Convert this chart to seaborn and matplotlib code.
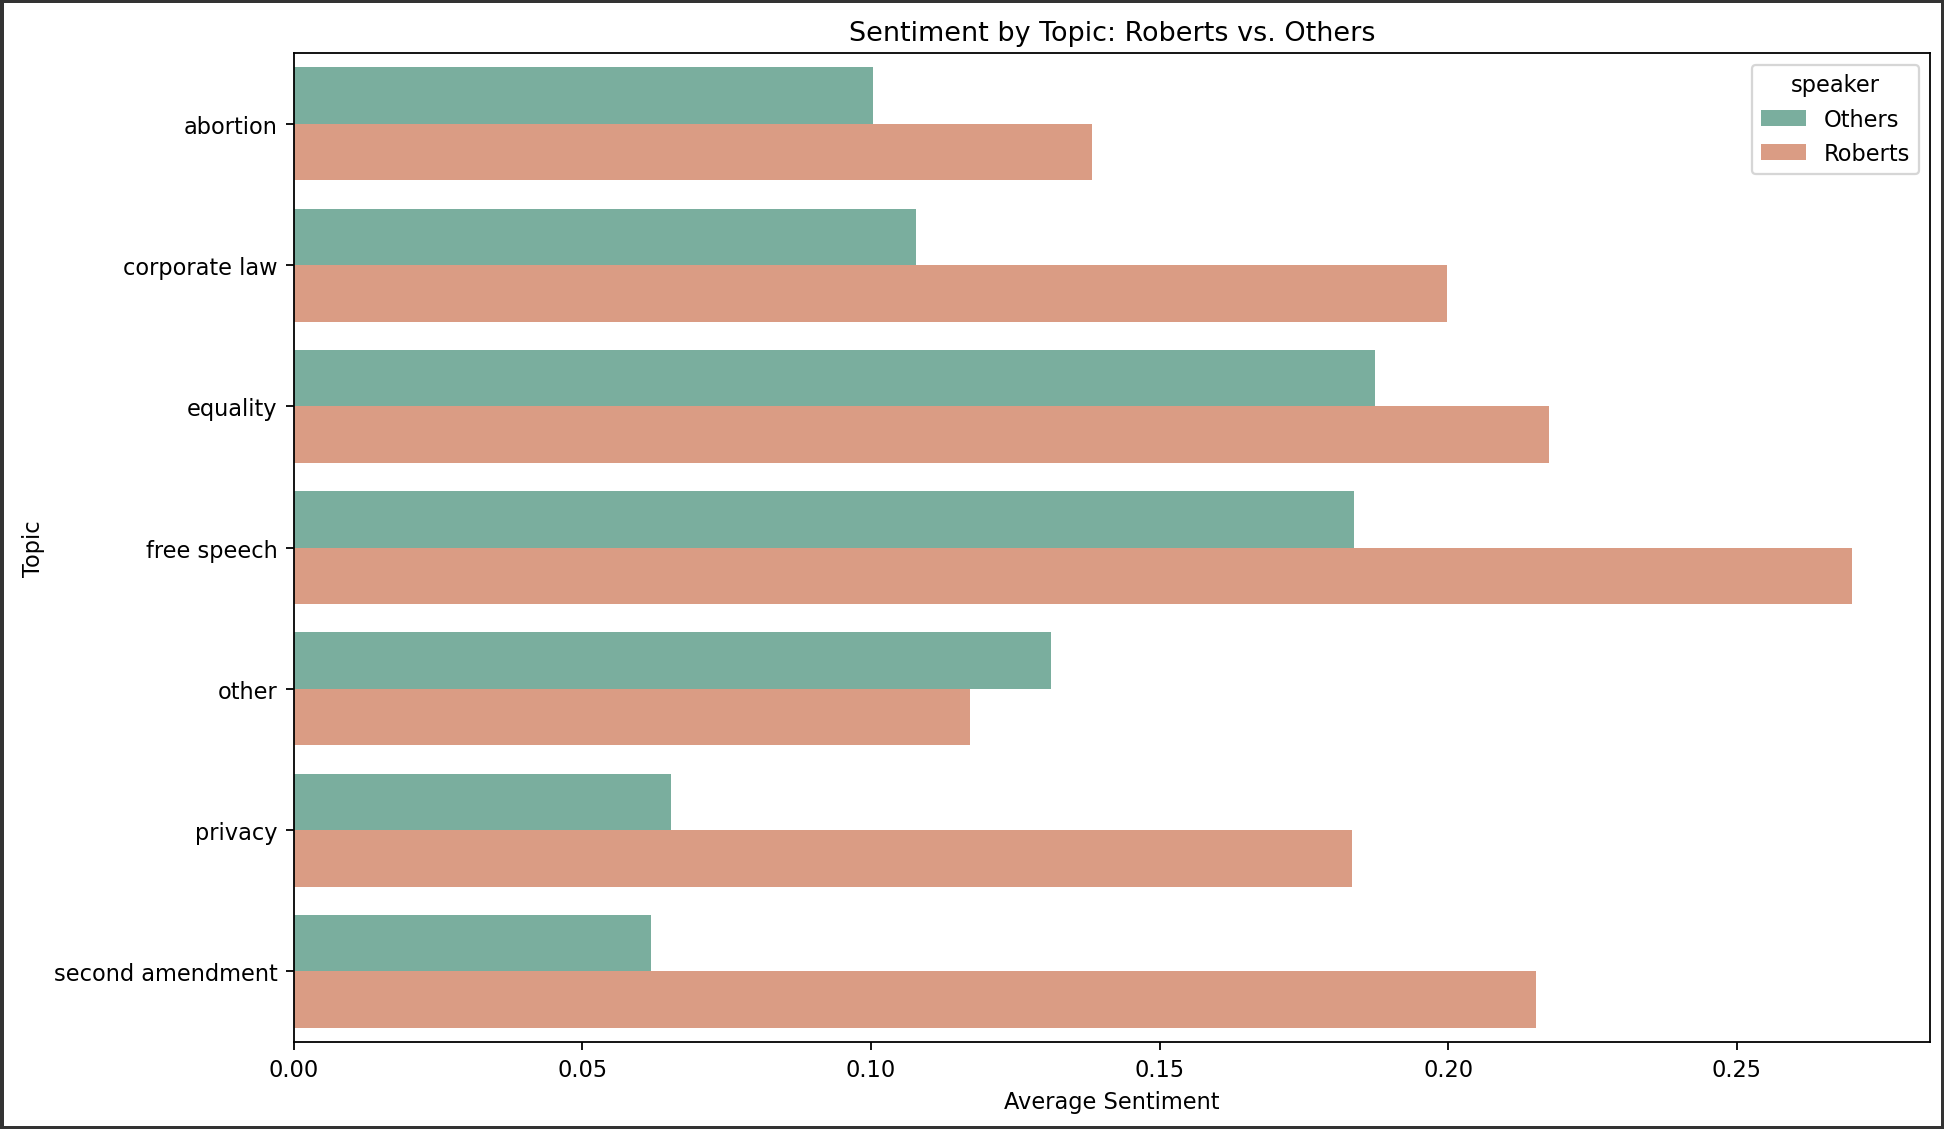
import matplotlib
matplotlib.use("Agg")
import matplotlib.pyplot as plt
import pandas as pd
import seaborn as sns

topics = ["abortion", "corporate law", "equality", "free speech",
          "other", "privacy", "second amendment"]
others = [0.1003, 0.1078, 0.1873, 0.1836, 0.1312, 0.0653, 0.0619]
roberts = [0.1383, 0.1997, 0.2174, 0.2700, 0.1171, 0.1834, 0.2152]

df = pd.DataFrame({
    "topic": topics * 2,
    "speaker": ["Others"] * len(topics) + ["Roberts"] * len(topics),
    "sentiment": others + roberts,
})

# muted Set2, as older seaborn drew it
palette = [sns.desaturate(c, 0.75) for c in sns.color_palette("Set2", 2)]

fig, ax = plt.subplots(figsize=(12, 6.975), dpi=162)
sns.barplot(data=df, y="topic", x="sentiment", hue="speaker",
            palette=palette, ax=ax)
ax.set_title("Sentiment by Topic: Roberts vs. Others")
ax.set_xlabel("Average Sentiment")
ax.set_ylabel("Topic")

fig.patch.set_edgecolor("#333333")
fig.patch.set_linewidth(3)
fig.subplots_adjust(left=0.151, right=0.993, top=0.952, bottom=0.077)
fig.savefig("out.png", dpi=162, edgecolor=fig.get_edgecolor())
plt.close(fig)
